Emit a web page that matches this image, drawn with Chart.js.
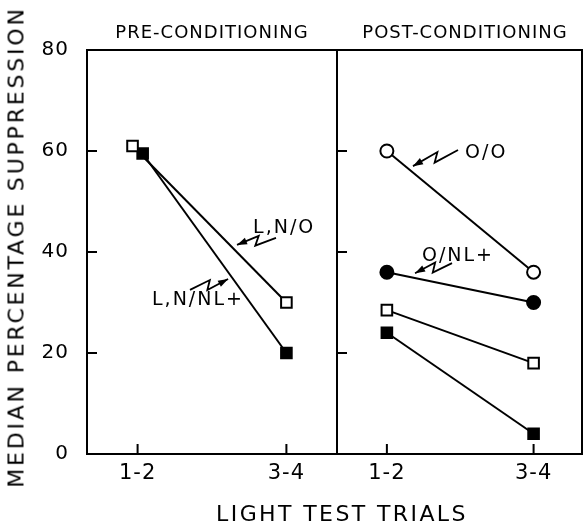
<!DOCTYPE html>
<html>
<head>
<meta charset="utf-8">
<script src="https://cdn.jsdelivr.net/npm/chart.js@4"></script>
<style>
  body { margin: 0; background: #fff; width: 584px; height: 525px; position: relative; overflow: hidden; font-family: 'DejaVu Sans', sans-serif; }
  canvas { position: absolute; top: 0; }
  .lbl { position: absolute; color: #000; white-space: nowrap; transform: translate(-50%, -50%); }
</style>
</head>
<body>
<canvas id="pre" width="338" height="525" style="left:0"></canvas>
<canvas id="post" width="248" height="525" style="left:336px"></canvas>
<div class="lbl" style="left:16px;top:247px;font-size:22px;letter-spacing:2.8px;transform:translate(-50%,-50%) rotate(-90deg)">MEDIAN PERCENTAGE SUPPRESSION</div>
<div class="lbl" style="left:212px;top:31px;font-size:18px;letter-spacing:1px">PRE-CONDITIONING</div>
<div class="lbl" style="left:465px;top:31px;font-size:18px;letter-spacing:1px">POST-CONDITIONING</div>
<div class="lbl" style="left:342px;top:513px;font-size:22px;letter-spacing:2.4px">LIGHT TEST TRIALS</div>
<script>
// trial blocks and tick values
const trials = ['1-2', '3-4'];
const trialPos = [1, 2];
const yTicks = [0, 20, 40, 60, 80];

// median % suppression, pre-conditioning
const preLNO = [61, 30];
const preLNNL = [59.5, 20];

// post-conditioning
const postOO = [60, 36];
const postONL = [36, 30];
const postLNO = [28.5, 18];
const postLNNL = [24, 4];

// small sideways shift so the two overlapping 1-2 squares stay visible
const preDodge = { open: [-0.034, 0], filled: [0.034, 0] };

function series(label, vals, style, dodge) {
    const open = style === 'openSquare' || style === 'openCircle';
    const circle = style === 'openCircle' || style === 'filledCircle';
    return {
        label: label,
        data: vals.map((v, i) => ({ x: trialPos[i] + (dodge ? dodge[i] : 0), y: v })),
        borderColor: '#000',
        borderWidth: 2,
        pointStyle: circle ? 'circle' : 'rect',
        pointRadius: circle ? 6.5 : 7.5,
        pointBorderWidth: 2,
        pointBorderColor: '#000',
        pointBackgroundColor: open ? '#fff' : '#000',
        fill: false
    };
}

function squiggle(ctx, x0, y0, x1, y1) {
    const dx = x1 - x0, dy = y1 - y0;
    const len = Math.hypot(dx, dy);
    const ux = dx / len, uy = dy / len;
    const nx = -uy, ny = ux;
    const pts = [[0, 0], [0.55, -4], [0.42, 5], [1, 0]].map(p =>
        [x0 + ux * p[0] * len + nx * p[1], y0 + uy * p[0] * len + ny * p[1]]);
    ctx.beginPath();
    pts.forEach((p, i) => i ? ctx.lineTo(p[0], p[1]) : ctx.moveTo(p[0], p[1]));
    ctx.stroke();
    const a = pts[2], b = pts[3];
    const ang = Math.atan2(b[1] - a[1], b[0] - a[0]);
    ctx.beginPath();
    ctx.moveTo(b[0], b[1]);
    ctx.lineTo(b[0] - 10 * Math.cos(ang) + 3.5 * Math.sin(ang), b[1] - 10 * Math.sin(ang) - 3.5 * Math.cos(ang));
    ctx.lineTo(b[0] - 10 * Math.cos(ang) - 3.5 * Math.sin(ang), b[1] - 10 * Math.sin(ang) + 3.5 * Math.cos(ang));
    ctx.closePath();
    ctx.fill();
}

const framePlugin = {
    id: 'frame',
    beforeDraw(chart) {
        // slightly wider lettering for the tick labels
        chart.ctx.letterSpacing = '1px';
    },
    afterDraw(chart, args, opts) {
        const { ctx, chartArea: a, scales: { x, y } } = chart;
        ctx.save();
        ctx.strokeStyle = '#000';
        ctx.fillStyle = '#000';
        ctx.lineWidth = 2;
        ctx.strokeRect(a.left, a.top, a.right - a.left, a.bottom - a.top);
        ctx.beginPath();
        y.ticks.forEach(t => {
            const py = y.getPixelForValue(t.value);
            ctx.moveTo(a.left, py);
            ctx.lineTo(a.left + 10, py);
        });
        x.ticks.forEach(t => {
            const px = x.getPixelForValue(t.value);
            ctx.moveTo(px, a.bottom);
            ctx.lineTo(px, a.bottom - 10);
        });
        ctx.stroke();

        ctx.lineWidth = 1.8;
        ctx.font = '19px "DejaVu Sans"';
        ctx.letterSpacing = '2px';
        ctx.textBaseline = 'middle';
        ctx.textAlign = 'left';
        (opts.notes || []).forEach(n => {
            ctx.fillText(n.text, x.getPixelForValue(n.at[0]), y.getPixelForValue(n.at[1]));
            squiggle(ctx, x.getPixelForValue(n.from[0]), y.getPixelForValue(n.from[1]),
                x.getPixelForValue(n.to[0]), y.getPixelForValue(n.to[1]));
        });
        ctx.restore();
    }
};

function makeChart(id, datasets, notes, showY, xMax, padRight) {
    new Chart(document.getElementById(id), {
        type: 'line',
        data: { datasets: datasets },
        options: {
            responsive: false,
            animation: false,
            layout: { autoPadding: false, padding: { top: 50, right: padRight, left: 0, bottom: 0 } },
            scales: {
                x: {
                    type: 'linear',
                    min: 0.66,
                    max: xMax,
                    grid: { display: false, drawTicks: false },
                    border: { display: false },
                    afterBuildTicks: s => { s.ticks = trialPos.map(v => ({ value: v })); },
                    afterFit: s => { s.height = 71; s.paddingLeft = 0; s.paddingRight = 0; },
                    ticks: {
                        color: '#000',
                        font: { family: 'DejaVu Sans', size: 21 },
                        padding: 7,
                        maxRotation: 0,
                        autoSkip: false,
                        callback: v => trials[trialPos.indexOf(v)] || ''
                    }
                },
                y: {
                    min: 0,
                    max: 80,
                    grid: { display: false, drawTicks: false },
                    border: { display: false },
                    afterBuildTicks: s => { s.ticks = yTicks.map(v => ({ value: v })); },
                    afterFit: s => { s.width = showY ? 87 : 1; s.paddingTop = 0; s.paddingBottom = 0; },
                    ticks: {
                        display: showY,
                        color: '#000',
                        font: { family: 'DejaVu Sans', size: 20 },
                        padding: 18
                    }
                }
            },
            plugins: {
                legend: { display: false },
                tooltip: { enabled: false },
                frame: { notes: notes }
            }
        },
        plugins: [framePlugin]
    });
}

makeChart('pre', [
    series('L,N/O', preLNO, 'openSquare', preDodge.open),
    series('L,N/NL+', preLNNL, 'filledSquare', preDodge.filled)
], [
    { text: 'L,N/O', at: [1.776, 44.8], from: [1.93, 42.8], to: [1.668, 41.4] },
    { text: 'L,N/NL+', at: [1.097, 30.5], from: [1.352, 32.5], to: [1.608, 34.65] }
], true, 2.34, 1);

makeChart('post', [
    series('O/O', postOO, 'openCircle'),
    series('O/NL+', postONL, 'filledCircle'),
    series('L,N/O', postLNO, 'openSquare'),
    series('L,N/NL+', postLNNL, 'filledSquare')
], [
    { text: 'O/O', at: [1.533, 59.6], from: [1.485, 60.2], to: [1.178, 57.0] },
    { text: 'O/NL+', at: [1.239, 39.2], from: [1.444, 37.8], to: [1.192, 35.8] }
], false, 2.33, 2);
</script>
</body>
</html>
